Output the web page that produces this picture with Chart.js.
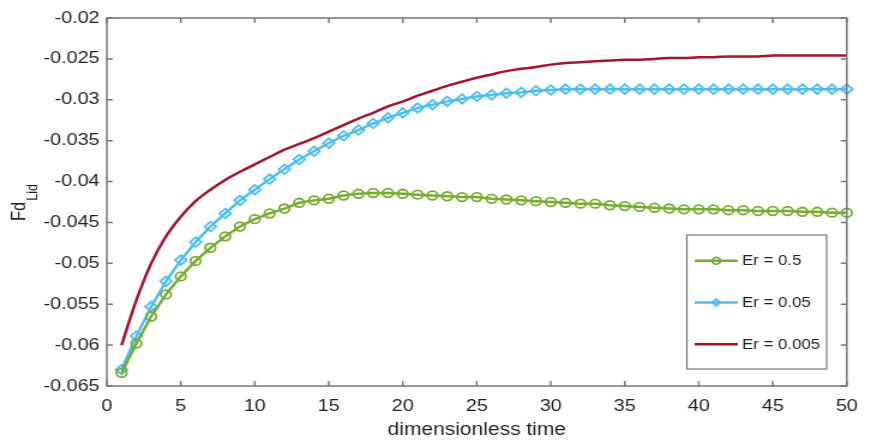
<!DOCTYPE html>
<html>
<head>
<meta charset="utf-8">
<script src="https://cdn.jsdelivr.net/npm/chart.js@4/dist/chart.umd.min.js"></script>
<style>
  html, body { margin: 0; padding: 0; background: #fff; }
</style>
</head>
<body>
<!-- the source figure is stretched ~1.2x horizontally, so the canvas is drawn at 726 wide and shown at 871 -->
<canvas id="chart" width="726" height="442" style="width:871px;height:442px;display:block"></canvas>
<script>
"use strict";

// dimensionless time steps
const times = [
  1, 2, 3, 4, 5, 6, 7, 8, 9, 10, 11, 12, 13, 14, 15, 16, 17, 18, 19, 20,
  21, 22, 23, 24, 25, 26, 27, 28, 29, 30, 31, 32, 33, 34, 35, 36, 37, 38, 39, 40,
  41, 42, 43, 44, 45, 46, 47, 48, 49, 50,
];

const seriesLabels = ["Er = 0.5", "Er = 0.05", "Er = 0.005"];

const fdEr0p5 = [
  -0.0634, -0.0598, -0.0565, -0.0538, -0.0516, -0.0497, -0.0481, -0.0467, -0.0455, -0.0446,
  -0.0439, -0.0433, -0.0426, -0.0423, -0.0421, -0.0417, -0.0415, -0.0414, -0.0414, -0.0415,
  -0.0416, -0.0417, -0.0418, -0.0419, -0.0419, -0.0421, -0.0422, -0.0423, -0.0424, -0.0425,
  -0.0426, -0.0427, -0.0427, -0.0429, -0.0430, -0.0431, -0.0432, -0.0433, -0.0434, -0.0434,
  -0.0434, -0.0435, -0.0435, -0.0436, -0.0436, -0.0436, -0.0437, -0.0437, -0.0438, -0.0438,
];

const fdEr0p05 = [
  -0.0630, -0.0589, -0.0553, -0.0522, -0.0496, -0.0474, -0.0455, -0.0439, -0.0423, -0.0410,
  -0.0397, -0.0385, -0.0373, -0.0363, -0.0353, -0.0344, -0.0337, -0.0329, -0.0322, -0.0316,
  -0.0310, -0.0306, -0.0302, -0.0299, -0.0296, -0.0294, -0.0292, -0.0291, -0.0289, -0.0288,
  -0.0287, -0.0287, -0.0287, -0.0287, -0.0287, -0.0287, -0.0287, -0.0287, -0.0287, -0.0287,
  -0.0287, -0.0287, -0.0287, -0.0287, -0.0287, -0.0287, -0.0287, -0.0287, -0.0287, -0.0287,
];

const fdEr0p005 = [
  -0.0600, -0.0545, -0.0500, -0.0467, -0.0443, -0.0424, -0.0410, -0.0398, -0.0388, -0.0379,
  -0.0370, -0.0361, -0.0354, -0.0347, -0.0339, -0.0331, -0.0323, -0.0316, -0.0308, -0.0302,
  -0.0295, -0.0289, -0.0283, -0.0278, -0.0273, -0.0269, -0.0265, -0.0262, -0.0260, -0.0257,
  -0.0255, -0.0254, -0.0253, -0.0252, -0.0251, -0.0251, -0.0250, -0.0249, -0.0249, -0.0248,
  -0.0248, -0.0247, -0.0247, -0.0247, -0.0246, -0.0246, -0.0246, -0.0246, -0.0246, -0.0246,
];

const xRange = [0, 50];
const xStep = 5;
const yRange = [-0.065, -0.02];
const yStep = 0.005;

const FONT = "'Liberation Sans', Arial, sans-serif";
const TEXT = "#1f1f1f";
const AXIS = "#767676";

function pts(vals) {
  return times.map((t, i) => ({ x: t, y: vals[i] }));
}

// box around the axes with inward ticks on all four sides
const framePlugin = {
  id: "frame",
  afterDatasetsDraw(chart) {
    const { ctx, chartArea: a, scales: { x, y } } = chart;
    ctx.save();
    ctx.strokeStyle = AXIS;
    ctx.lineWidth = 1.5;
    ctx.strokeRect(a.left, a.top, a.right - a.left, a.bottom - a.top);
    ctx.beginPath();
    for (const t of x.ticks) {
      const px = x.getPixelForValue(t.value);
      ctx.moveTo(px, a.bottom); ctx.lineTo(px, a.bottom - 5);
      ctx.moveTo(px, a.top); ctx.lineTo(px, a.top + 5);
    }
    for (const t of y.ticks) {
      const py = y.getPixelForValue(t.value);
      ctx.moveTo(a.left, py); ctx.lineTo(a.left + 5, py);
      ctx.moveTo(a.right, py); ctx.lineTo(a.right - 5, py);
    }
    ctx.stroke();
    ctx.restore();
  },
};

function marker(ctx, style, cx, cy, r) {
  ctx.beginPath();
  if (style === "rectRot") {
    ctx.moveTo(cx, cy - r);
    ctx.lineTo(cx + r, cy);
    ctx.lineTo(cx, cy + r);
    ctx.lineTo(cx - r, cy);
    ctx.closePath();
  } else {
    ctx.arc(cx, cy, r, 0, Math.PI * 2);
  }
  ctx.stroke();
}

const legendPlugin = {
  id: "boxLegend",
  afterDraw(chart) {
    const { ctx } = chart;
    const box = { left: 572.5, top: 235, width: 116.5, height: 134 };
    ctx.save();
    ctx.fillStyle = "#fff";
    ctx.fillRect(box.left, box.top, box.width, box.height);
    ctx.strokeStyle = AXIS;
    ctx.lineWidth = 1.2;
    ctx.strokeRect(box.left, box.top, box.width, box.height);
    chart.data.datasets.forEach((ds, i) => {
      const rowY = 260.7 + i * 41.8;
      ctx.strokeStyle = ds.borderColor;
      ctx.lineWidth = 2.5;
      ctx.beginPath();
      ctx.moveTo(579, rowY);
      ctx.lineTo(615, rowY);
      ctx.stroke();
      if (ds.pointRadius > 0) {
        ctx.lineWidth = 1.8;
        marker(ctx, ds.pointStyle, 597, rowY, 3.4);
      }
      ctx.fillStyle = TEXT;
      ctx.font = "14px " + FONT;
      ctx.textBaseline = "middle";
      ctx.fillText(ds.label, 618.5, rowY + 0.5);
    });
    ctx.restore();
  },
};

const yTitlePlugin = {
  id: "yTitle",
  afterDraw(chart) {
    const { ctx } = chart;
    ctx.save();
    ctx.translate(21, 221);
    ctx.rotate(-Math.PI / 2);
    ctx.fillStyle = TEXT;
    ctx.textBaseline = "alphabetic";
    ctx.font = "16.5px " + FONT;
    ctx.fillText("Fd", 0, 0);
    const w = ctx.measureText("Fd").width;
    ctx.font = "12.5px " + FONT;
    ctx.fillText("Lid", w + 1, 10);
    ctx.restore();
  },
};

new Chart(document.getElementById("chart"), {
  type: "line",
  data: {
    datasets: [
      {
        label: seriesLabels[0],
        data: pts(fdEr0p5),
        borderColor: "#77AC30",
        backgroundColor: "transparent",
        borderWidth: 2.5,
        pointStyle: "circle",
        pointRadius: 4.3,
        pointBorderWidth: 1.8,
        pointBackgroundColor: "transparent",
        pointBorderColor: "#77AC30",
        clip: false,
      },
      {
        label: seriesLabels[1],
        data: pts(fdEr0p05),
        borderColor: "#4DBEEE",
        backgroundColor: "transparent",
        borderWidth: 2.5,
        pointStyle: "rectRot",
        pointRadius: 4.8,
        pointBorderWidth: 1.8,
        pointBackgroundColor: "transparent",
        pointBorderColor: "#4DBEEE",
        clip: false,
      },
      {
        label: seriesLabels[2],
        data: pts(fdEr0p005),
        borderColor: "#A2142F",
        backgroundColor: "transparent",
        borderWidth: 2.5,
        pointRadius: 0,
        cubicInterpolationMode: "monotone",
        clip: false,
      },
    ],
  },
  options: {
    responsive: false,
    devicePixelRatio: 1,
    animation: false,
    events: [],
    layout: { padding: { top: 18, right: 13, left: 0, bottom: 0 } },
    plugins: {
      legend: { display: false },
      tooltip: { enabled: false },
    },
    scales: {
      x: {
        type: "linear",
        min: xRange[0],
        max: xRange[1],
        ticks: { stepSize: xStep, padding: 11, color: TEXT, font: { family: FONT, size: 16.5 }, maxRotation: 0 },
        grid: { display: false, drawTicks: false },
        border: { display: false },
        title: {
          display: true,
          text: "dimensionless time",
          color: TEXT,
          font: { family: FONT, size: 17.5 },
          padding: { top: 0, bottom: 1 },
        },
        afterFit(s) { s.height = 56; },
      },
      y: {
        type: "linear",
        min: yRange[0],
        max: yRange[1],
        ticks: {
          stepSize: yStep,
          padding: 6,
          color: TEXT,
          font: { family: FONT, size: 16.5 },
          callback: (v) => String(Number(v.toFixed(3))),
        },
        grid: { display: false, drawTicks: false },
        border: { display: false },
        afterFit(s) { s.width = 89; },
      },
    },
  },
  plugins: [framePlugin, legendPlugin, yTitlePlugin],
});
</script>
</body>
</html>
